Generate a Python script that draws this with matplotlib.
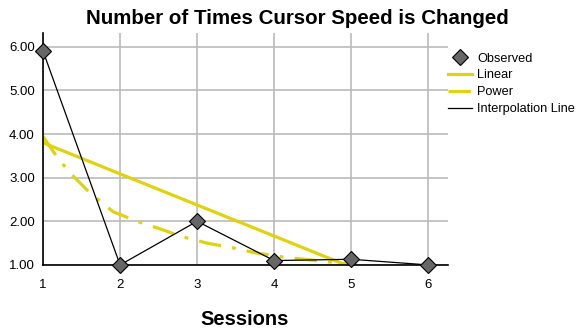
import matplotlib
matplotlib.use("Agg")
import matplotlib.pyplot as plt

plt.rcParams['font.family'] = ['Liberation Sans', 'DejaVu Sans']

sessions = [1, 2, 3, 4, 5, 6]
observed = [5.9, 1.0, 2.0, 1.1, 1.13, 1.0]

linear_x = [1, 4.93]
linear_y = [3.8, 1.0]

power_x = [1, 1.18, 1.35, 1.61, 1.91, 2.22, 2.48, 2.82, 3.13, 3.47, 3.75, 4.12, 4.6, 5.08]
power_y = [3.94, 3.48, 3.11, 2.65, 2.22, 2.0, 1.85, 1.64, 1.5, 1.39, 1.28, 1.18, 1.09, 1.0]

yticks = [1, 2, 3, 4, 5, 6]
ylabels = ["1.00", "2.00", "3.00", "4.00", "5.00", "6.00"]

yellow = "#e0d20c"

fig = plt.figure(figsize=(5.82, 3.32), dpi=100)
ax = fig.add_axes([0.074, 0.202, 0.696, 0.699])

ax.plot(sessions, observed, color="black", lw=0.9, label="Interpolation Line", zorder=3)
ax.plot(linear_x, linear_y, color=yellow, lw=2.3, label="Linear", zorder=2)
ax.plot(power_x, power_y, color=yellow, lw=2.3, dashes=(7, 3.5, 1.2, 3.5), label="Power", zorder=2)
ax.plot(sessions, observed, ls="none", marker="D", ms=8, mfc="#666666", mec="black",
        mew=0.8, label="Observed", zorder=4, clip_on=False)

ax.set_xlim(1, 6.26)
ax.set_ylim(1, 6.32)
ax.set_xticks(sessions)
ax.set_yticks(yticks)
ax.set_yticklabels(ylabels)
ax.tick_params(length=0, labelsize=9.5)
ax.tick_params(axis="x", pad=10)
ax.tick_params(axis="y", pad=6)
ax.grid(True, color="#bbbbbb", lw=1.2)
ax.set_axisbelow(True)
for s in ["top", "right"]:
    ax.spines[s].set_visible(False)
ax.spines["left"].set_linewidth(1.2)
ax.spines["bottom"].set_linewidth(1.2)

fig.text(0.511, 0.945, "Number of Times Cursor Speed is Changed", fontsize=14.8,
         fontweight="bold", ha="center", va="center")
fig.text(0.421, 0.039, "Sessions", fontsize=14.5, fontweight="bold", ha="center", va="center")

h, l = ax.get_legend_handles_labels()
order = [3, 1, 2, 0]
ax.legend([h[i] for i in order], [l[i] for i in order], loc="upper left",
          bbox_to_anchor=(1.0, 0.915), frameon=False, fontsize=9.2,
          handlelength=1.9, handletextpad=0.35, labelspacing=0.38,
          borderaxespad=0, borderpad=0)

fig.savefig("out.png", dpi=100)
